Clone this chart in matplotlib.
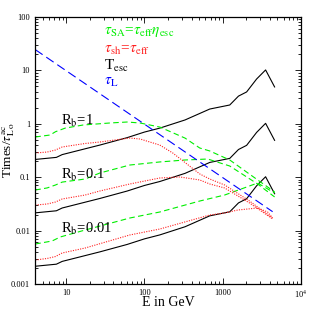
import matplotlib
matplotlib.use("Agg")
import numpy as np
import matplotlib.pyplot as plt

# escape time T_esc for R_b = 1 (the 0.1 and 0.01 curves are the same times 0.1, 0.01)
e_esc = [4.03, 7.5, 8.9, 27, 60, 100, 157, 330, 683, 1230, 1590, 2020, 2710, 3530, 4600]
t_esc = [0.215, 0.235, 0.265, 0.40, 0.55, 0.70, 0.83, 1.18, 1.89, 2.25, 3.3, 3.95, 6.9, 10.2, 4.9]
rb_vals = [1, 0.1, 0.01]

# tau_L
e_L = [4.03, 4340]
t_L = [24.5, 0.0226]

# tau_SA (green), one per R_b
e_sa1 = [4.03, 6.25, 7.3, 9.7, 16.5, 36, 60, 88, 157, 330, 509, 683, 1230, 2790, 4600]
t_sa1 = [0.566, 0.617, 0.71, 0.83, 0.95, 1.035, 1.08, 1.035, 0.87, 0.54, 0.352, 0.31, 0.21, 0.089, 0.053]
e_sa2 = [4.03, 5.73, 7.3, 8.9, 17.5, 27, 65, 157, 330, 644, 1230, 2790, 4600]
t_sa2 = [0.0575, 0.063, 0.0714, 0.081, 0.0925, 0.12, 0.169, 0.193, 0.21, 0.219, 0.162, 0.0746, 0.0427]
e_sa3 = [4.03, 6.6, 8.4, 17.5, 65, 157, 509, 1060, 2790, 4600]
t_sa3 = [0.00561, 0.00638, 0.00759, 0.01026, 0.0172, 0.0223, 0.0358, 0.0464, 0.0778, 0.0506]

# tau_sh (red), one per R_b
e_sh1 = [4.03, 5.73, 7.3, 8.9, 17.5, 27, 65, 88, 157, 230, 509, 683, 1060, 2200, 4340]
t_sh1 = [0.284, 0.296, 0.323, 0.368, 0.428, 0.456, 0.542, 0.519, 0.40, 0.284, 0.115, 0.0925, 0.0714, 0.0358, 0.0172]
e_sh2 = [4.03, 5.73, 7.3, 8.9, 17.5, 27, 65, 157, 283, 509, 683, 1060, 2200, 4340]
t_sh2 = [0.0301, 0.0315, 0.0343, 0.0391, 0.0464, 0.0552, 0.0746, 0.0966, 0.101, 0.0887, 0.0746, 0.0628, 0.0329, 0.0165]
e_sh3 = [4.03, 5.73, 7.3, 8.9, 17.5, 65, 157, 683, 1060, 1560, 2790, 3750, 4340]
t_sh3 = [0.00281, 0.00301, 0.00327, 0.00381, 0.00472, 0.00828, 0.0107, 0.0196, 0.0214, 0.0243, 0.0265, 0.0223, 0.0172]

plt.rcParams["font.family"] = ["Liberation Serif", "DejaVu Serif"]
plt.rcParams["mathtext.fontset"] = "stix"

fig = plt.figure(figsize=(3.19, 3.19), dpi=100)
ax = fig.add_axes([35 / 319, 1 - 284 / 319, 266 / 319, 267 / 319])

green = "#00ee00"
red = "#ff2020"
lw = 0.8

for rb in rb_vals:
    ax.plot(e_esc, np.array(t_esc) * rb, color="black", lw=lw)

for e, t in [(e_sa1, t_sa1), (e_sa2, t_sa2), (e_sa3, t_sa3)]:
    ax.plot(e, t, color=green, lw=lw, ls=(0, (5, 3)))
for e, t in [(e_sh1, t_sh1), (e_sh2, t_sh2), (e_sh3, t_sh3)]:
    ax.plot(e, t, color=red, lw=lw, ls=(0, (1, 1.2)))
ax.plot(e_L, t_L, color="blue", lw=lw, ls=(0, (8, 4)))

ax.set_xscale("log")
ax.set_yscale("log")
ax.set_xlim(4, 1e4)
ax.set_ylim(1e-3, 100)

ax.set_xticks([10, 100, 1000, 1e4], ["10", "100", "1000", r"10$^4$"])
ax.set_yticks([1e-3, 1e-2, 0.1, 1, 10, 100], ["0.001", "0.01", "0.1", "1", "10", "100"])
ax.tick_params(which="both", direction="in", top=True, right=True, labelsize=6, width=0.6)
ax.tick_params(which="major", length=4)
ax.tick_params(which="minor", length=2)
for s in ax.spines.values():
    s.set_linewidth(0.9)

ax.set_xlabel("E in GeV", fontsize=10)
ax.xaxis.set_label_coords(0.5, -0.045)
ax.set_ylabel(r"Times/$\tau^{\rm ac}_{\rm L\,o}$", fontsize=9.5)
ax.yaxis.set_label_coords(-0.068, 0.5)

ax.text(14, 1.15, r"R$_{\rm b}$=1", fontsize=10.5, ha="center", va="center")
ax.text(16.5, 0.11, r"R$_{\rm b}$=0.1", fontsize=10.5, ha="center", va="center")
ax.text(18, 0.0107, r"R$_{\rm b}$=0.01", fontsize=10.5, ha="center", va="center")

ax.text(0.26, 0.945, r"$\tau_{\rm SA}$=$\tau_{\rm eff}\eta_{\rm esc}$", color=green,
        fontsize=11, transform=ax.transAxes, va="center")
ax.text(0.26, 0.875, r"$\tau_{\rm sh}$=$\tau_{\rm eff}$", color=red,
        fontsize=11, transform=ax.transAxes, va="center")
ax.text(0.26, 0.815, r"T$_{\rm esc}$", color="black",
        fontsize=11, transform=ax.transAxes, va="center")
ax.text(0.26, 0.755, r"$\tau_{\rm L}$", color="blue",
        fontsize=11, transform=ax.transAxes, va="center")

fig.savefig("out.png", dpi=100)
